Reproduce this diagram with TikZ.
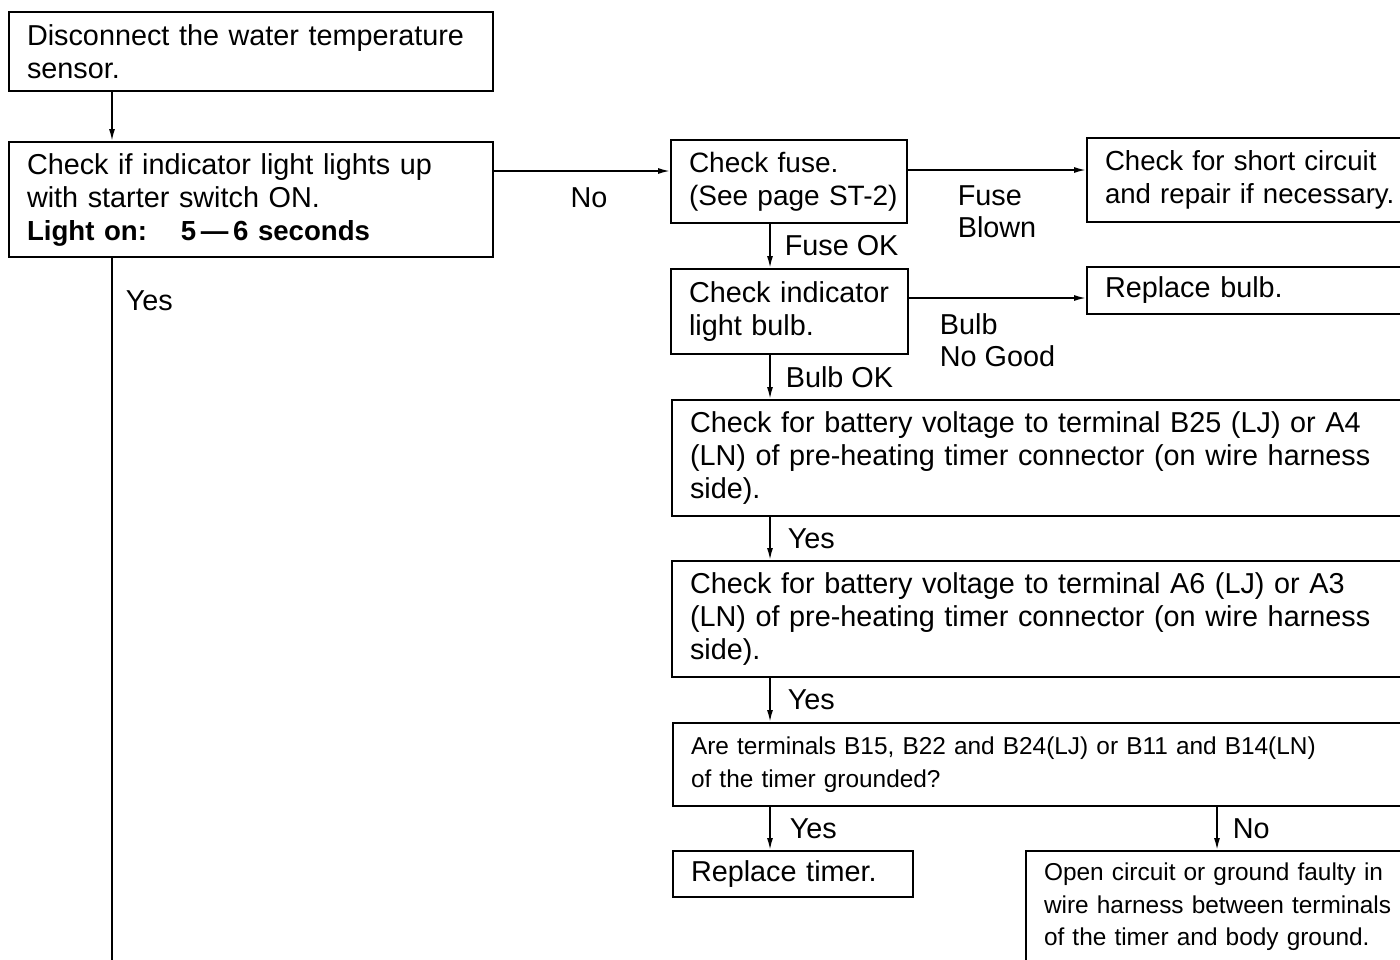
\documentclass[tikz,border=0pt]{standalone}
\usepackage{fontspec}
\setmainfont{Liberation Sans}
\usetikzlibrary{arrows.meta, positioning}
\tikzset{
    passo/.style={rectangle, draw, line width=1pt, anchor=north west, align=left, inner xsep=9pt, inner ysep=0pt, font=\fontsize{14.4}{16.5}\selectfont},
    passo_pequeno/.style={passo, font=\fontsize{12.2}{16.2}\selectfont},
    rotulo/.style={inner sep=0pt, align=left, font=\fontsize{14.4}{16}\selectfont},
    seta/.style={line width=0.8pt, -{Latex[length=6pt, width=3pt]}},
    linha/.style={line width=0.8pt}
}

\begin{document}
\begin{tikzpicture}[x=0.5pt, y=-0.5pt]
        \useasboundingbox (0,0) rectangle (1400,959);
        \clip (0,0) rectangle (1400,959);

        % Colunas das setas verticais
        \coordinate (col_esq) at (112,0);
        \coordinate (col_dir) at (770,0);
        \coordinate (col_no) at (1217,0);
        \coordinate (fim_yes) at (112,975);

        % Coluna da esquerda
        \node (sensor) [passo, text width=224pt, minimum height=39.5pt] at (8,11) {Disconnect the water temperature\\sensor.};
        \node (indicator) [passo, text width=224pt, minimum height=57.5pt] at (8,141) {Check if indicator light lights up\\with starter switch ON.\\{\fontsize{13.8}{16.5}\selectfont\bfseries Light on:\hspace{17pt}5\,---\,6 seconds}};

        % Fusivel e lampada
        \node (fuse) [passo, font=\fontsize{14}{16.5}\selectfont, text width=100pt, minimum height=41.5pt] at (670,139) {Check fuse.\\\mbox{(See page ST-2)}};
        \node (short) [passo, font=\fontsize{13.8}{16.5}\selectfont, text width=200pt, minimum height=42pt] at (1086,137) {Check for short circuit\\and repair if necessary.};
        \node (bulb) [passo, text width=100.5pt, minimum height=42.5pt] at (670,268) {Check indicator\\light bulb.};
        \node (newbulb) [passo, text width=200pt, minimum height=23.5pt] at (1086,266) {Replace bulb.};

        % Verificacoes do timer
        \node (b25) [passo, text width=360pt, minimum height=58pt] at (671,399) {Check for battery voltage to terminal B25 (LJ) or A4\\(LN) of pre-heating timer connector (on wire harness\\side).};
        \node (a6) [passo, text width=360pt, minimum height=58pt] at (671,560) {Check for battery voltage to terminal A6 (LJ) or A3\\(LN) of pre-heating timer connector (on wire harness\\side).};
        \node (ground) [passo_pequeno, text width=360pt, minimum height=41.5pt] at (672,722) {Are terminals B15, B22 and B24(LJ) or B11 and B14(LN)\\of the timer grounded?};
        \node (timer) [passo, text width=102pt, minimum height=23pt] at (672,850) {Replace timer.};
        \node (harness) [passo_pequeno, text width=200pt, minimum height=56pt] at (1025,850) {Open circuit or ground faulty in\\wire harness between terminals\\of the timer and body ground.};

        % Setas verticais
        \draw [seta] (col_esq |- sensor.south) -- (col_esq |- indicator.north);
        \draw [linha] (col_esq |- indicator.south) -- (fim_yes) node[rotulo, pos=0, below right=16pt and 6.5pt] {Yes};
        \draw [seta] (col_dir |- fuse.south) -- (col_dir |- bulb.north) node[rotulo, midway, right=7pt] {Fuse OK};
        \draw [seta] (col_dir |- bulb.south) -- (col_dir |- b25.north) node[rotulo, midway, right=7.5pt] {Bulb OK};
        \draw [seta] (col_dir |- b25.south) -- (col_dir |- a6.north) node[rotulo, midway, right=8.5pt] {Yes};
        \draw [seta] (col_dir |- a6.south) -- (col_dir |- ground.north) node[rotulo, midway, right=8.5pt] {Yes};
        \draw [seta] (col_dir |- ground.south) -- (col_dir |- timer.north) node[rotulo, midway, right=9.5pt] {Yes};
        \draw [seta] (col_no |- ground.south) -- (col_no |- harness.north) node[rotulo, midway, right=7.5pt] {No};

        % Setas horizontais
        \draw [seta] ([yshift=5.25pt]fuse.west -| indicator.east) -- ([yshift=5.25pt]fuse.west) node[rotulo, pos=0.54, below=8pt] {No};
        \draw [seta] ([yshift=5.75pt]fuse.east) -- ([yshift=5.75pt]fuse.east -| short.west) node[rotulo, midway, below=7.5pt] {Fuse\\Blown};
        \draw [seta] ([yshift=6.75pt]bulb.east) -- ([yshift=6.75pt]bulb.east -| newbulb.west) node[rotulo, midway, below=7.5pt] {Bulb\\No Good};

    \end{tikzpicture}
\end{document}
